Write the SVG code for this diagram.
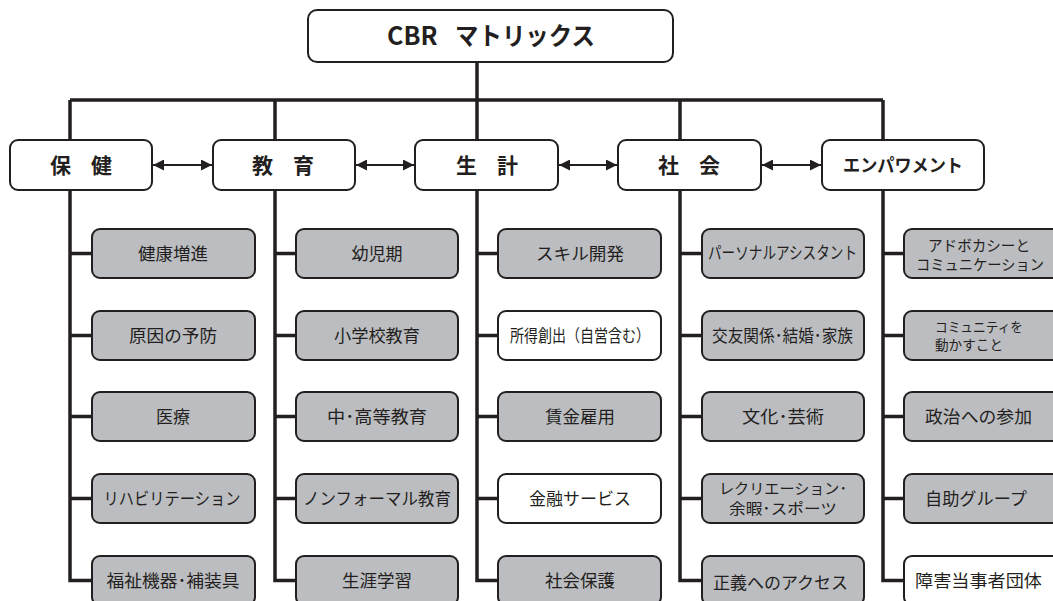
<svg xmlns="http://www.w3.org/2000/svg" width="1053" height="601" viewBox="0 0 1053 601">
<defs>
<style>
.ln{stroke:#231f20;stroke-width:3.5;fill:none}
.ar{stroke:#231f20;stroke-width:2;fill:none}
.box{fill:#fff;stroke:#231f20;stroke-width:2}
.g{fill:#bcbdc0;stroke:#231f20;stroke-width:2}
text{font-family:"Noto Sans CJK JP","Liberation Sans",sans-serif;fill:#231f20}
.t{font-size:17px;text-anchor:middle}
.t2{font-size:15px;text-anchor:middle}
.c{font-size:21px;font-weight:bold;text-anchor:middle}
</style>
<marker id="ah" viewBox="0 0 10 10" refX="10" refY="5" markerWidth="11" markerHeight="11" markerUnits="userSpaceOnUse" orient="auto-start-reverse">
<path d="M0,0 L10,5 L0,10 Z" fill="#231f20"/>
</marker>
</defs>
<rect width="1053" height="601" fill="#fff"/>
<g id="connectors">
<path class="ln" d="M477,62 V100 M70,100 H883 M70,100 V140 M275,100 V140 M477,100 V140 M680,100 V140 M883,100 V140"/>
<path class="ln" d="M70,190 V580.5 H92 M70,253.5 H92 M70,335.5 H92 M70,416.5 H92 M70,498.5 H92"/>
<path class="ln" d="M275,190 V580.5 H296 M275,253.5 H296 M275,335.5 H296 M275,416.5 H296 M275,498.5 H296"/>
<path class="ln" d="M477,190 V580.5 H498 M477,253.5 H498 M477,335.5 H498 M477,416.5 H498 M477,498.5 H498"/>
<path class="ln" d="M680,190 V580.5 H702 M680,253.5 H702 M680,335.5 H702 M680,416.5 H702 M680,498.5 H702"/>
<path class="ln" d="M883,190 V580.5 H904 M883,253.5 H904 M883,335.5 H904 M883,416.5 H904 M883,498.5 H904"/>
<line class="ar" x1="153" y1="165" x2="212" y2="165" marker-start="url(#ah)" marker-end="url(#ah)"/>
<line class="ar" x1="356" y1="165" x2="414" y2="165" marker-start="url(#ah)" marker-end="url(#ah)"/>
<line class="ar" x1="559" y1="165" x2="617" y2="165" marker-start="url(#ah)" marker-end="url(#ah)"/>
<line class="ar" x1="762" y1="165" x2="821" y2="165" marker-start="url(#ah)" marker-end="url(#ah)"/>
</g>
<g id="root">
<rect class="box" x="308" y="10" width="365" height="52" rx="9"/>
<text x="387" y="45" font-size="25" font-weight="bold">CBR<tspan x="455" textLength="140" lengthAdjust="spacingAndGlyphs">マトリックス</tspan></text>
</g>
<g id="cat-health">
<rect class="box" x="10" y="140" width="142" height="50" rx="8"/>
<text class="c" x="81" y="173" textLength="62">保　健</text>
</g>
<g id="cat-education">
<rect class="box" x="213" y="140" width="142" height="50" rx="8"/>
<text class="c" x="283" y="173" textLength="62">教　育</text>
</g>
<g id="cat-livelihood">
<rect class="box" x="415" y="140" width="143" height="50" rx="8"/>
<text class="c" x="487" y="173" textLength="62">生　計</text>
</g>
<g id="cat-social">
<rect class="box" x="618" y="140" width="143" height="50" rx="8"/>
<text class="c" x="689" y="173" textLength="62">社　会</text>
</g>
<g id="cat-empowerment">
<rect class="box" x="822" y="140" width="162" height="50" rx="8"/>
<text x="903" y="172" font-size="18" font-weight="bold" text-anchor="middle" textLength="120" lengthAdjust="spacingAndGlyphs">エンパワメント</text>
</g>
<!-- column 1 -->
<g id="h1"><rect class="g" x="92" y="229" width="163" height="49" rx="8"/><text class="t" x="173" y="259.5" textLength="70" lengthAdjust="spacingAndGlyphs">健康増進</text></g>
<g id="h2"><rect class="g" x="92" y="311" width="163" height="49" rx="8"/><text class="t" x="173" y="341.5" textLength="88" lengthAdjust="spacingAndGlyphs">原因の予防</text></g>
<g id="h3"><rect class="g" x="92" y="392" width="163" height="49" rx="8"/><text class="t" x="173" y="422.5">医療</text></g>
<g id="h4"><rect class="g" x="92" y="474" width="163" height="49" rx="8"/><text class="t" x="172" y="504.5" textLength="137" lengthAdjust="spacingAndGlyphs">リハビリテーション</text></g>
<g id="h5"><rect class="g" x="92" y="556" width="163" height="49" rx="8"/><text class="t" x="173" y="586.5" textLength="133" lengthAdjust="spacingAndGlyphs">福祉機器･補装具</text></g>
<!-- column 2 -->
<g id="e1"><rect class="g" x="296" y="229" width="162" height="49" rx="8"/><text class="t" x="377" y="259.5">幼児期</text></g>
<g id="e2"><rect class="g" x="296" y="311" width="162" height="49" rx="8"/><text class="t" x="377" y="341.5" textLength="86" lengthAdjust="spacingAndGlyphs">小学校教育</text></g>
<g id="e3"><rect class="g" x="296" y="392" width="162" height="49" rx="8"/><text class="t" x="377" y="422.5" textLength="100" lengthAdjust="spacingAndGlyphs">中･高等教育</text></g>
<g id="e4"><rect class="g" x="296" y="474" width="162" height="49" rx="8"/><text class="t" x="377" y="504.5" textLength="148" lengthAdjust="spacingAndGlyphs">ノンフォーマル教育</text></g>
<g id="e5"><rect class="g" x="296" y="556" width="162" height="49" rx="8"/><text class="t" x="377" y="586.5" textLength="70" lengthAdjust="spacingAndGlyphs">生涯学習</text></g>
<!-- column 3 -->
<g id="l1"><rect class="g" x="498" y="229" width="163" height="49" rx="8"/><text class="t" x="580" y="259.5" textLength="88" lengthAdjust="spacingAndGlyphs">スキル開発</text></g>
<g id="l2"><rect class="box" x="498" y="311" width="163" height="49" rx="8"/><text class="t" x="580" y="341.5" textLength="140" lengthAdjust="spacingAndGlyphs">所得創出（自営含む）</text></g>
<g id="l3"><rect class="g" x="498" y="392" width="163" height="49" rx="8"/><text class="t" x="580" y="422.5" textLength="70" lengthAdjust="spacingAndGlyphs">賃金雇用</text></g>
<g id="l4"><rect class="box" x="498" y="474" width="163" height="49" rx="8"/><text class="t" x="580" y="504.5" textLength="102" lengthAdjust="spacingAndGlyphs">金融サービス</text></g>
<g id="l5"><rect class="g" x="498" y="556" width="163" height="49" rx="8"/><text class="t" x="580" y="586.5" textLength="70" lengthAdjust="spacingAndGlyphs">社会保護</text></g>
<!-- column 4 -->
<g id="s1"><rect class="g" x="702" y="229" width="162" height="49" rx="8"/><text class="t" x="782.5" y="259" font-size="15.5" textLength="149" lengthAdjust="spacingAndGlyphs">パーソナルアシスタント</text></g>
<g id="s2"><rect class="g" x="702" y="311" width="162" height="49" rx="8"/><text class="t" x="782.5" y="341.5" font-size="16" textLength="141" lengthAdjust="spacingAndGlyphs">交友関係･結婚･家族</text></g>
<g id="s3"><rect class="g" x="702" y="392" width="162" height="49" rx="8"/><text class="t" x="783" y="422.5" textLength="82" lengthAdjust="spacingAndGlyphs">文化･芸術</text></g>
<g id="s4"><rect class="g" x="702" y="474" width="162" height="49" rx="8"/><text class="t2"><tspan x="783" y="493.5" textLength="128" lengthAdjust="spacingAndGlyphs">レクリエーション･</tspan><tspan x="783" y="513.5" textLength="108" lengthAdjust="spacingAndGlyphs">余暇･スポーツ</tspan></text></g>
<g id="s5"><rect class="g" x="702" y="556" width="162" height="49" rx="8"/><text class="t" x="780.5" y="589" textLength="135" lengthAdjust="spacingAndGlyphs">正義へのアクセス</text></g>
<!-- column 5 -->
<g id="p1"><rect class="g" x="904" y="229" width="163" height="49" rx="8"/><text class="t2" font-size="14"><tspan x="979" y="251" textLength="102" lengthAdjust="spacingAndGlyphs">アドボカシーと</tspan><tspan x="980" y="269.5" textLength="128" lengthAdjust="spacingAndGlyphs">コミュニケーション</tspan></text></g>
<g id="p2"><rect class="g" x="904" y="311" width="163" height="49" rx="8"/><text font-size="13.5"><tspan x="935" y="332" textLength="88" lengthAdjust="spacingAndGlyphs">コミュニティを</tspan><tspan x="935" y="350" textLength="68" lengthAdjust="spacingAndGlyphs">動かすこと</tspan></text></g>
<g id="p3"><rect class="g" x="904" y="392" width="163" height="49" rx="8"/><text class="t" x="978.5" y="422.5" textLength="107" lengthAdjust="spacingAndGlyphs">政治への参加</text></g>
<g id="p4"><rect class="g" x="904" y="474" width="163" height="49" rx="8"/><text class="t" x="976" y="504.5" textLength="102" lengthAdjust="spacingAndGlyphs">自助グループ</text></g>
<g id="p5"><rect class="box" x="904" y="556" width="163" height="49" rx="8"/><text class="t" x="978.5" y="587" textLength="127" lengthAdjust="spacingAndGlyphs">障害当事者団体</text></g>
</svg>
